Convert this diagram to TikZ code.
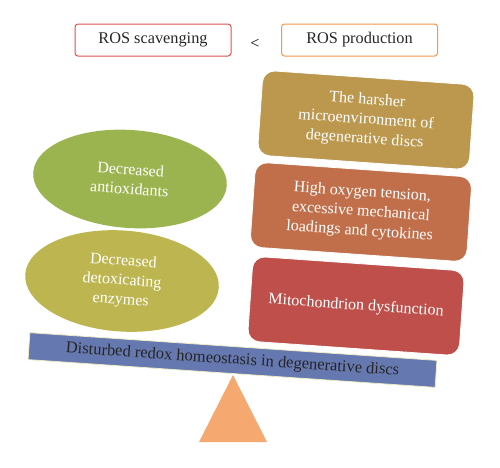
\documentclass[tikz,border=0pt]{standalone}
\usepackage{fontspec}
\setmainfont{Liberation Serif}
\usetikzlibrary{shapes.geometric}
\definecolor{redb}{HTML}{D9534F}
\definecolor{orab}{HTML}{F79646}
\definecolor{boxA}{HTML}{BC974E}
\definecolor{boxB}{HTML}{C06F4A}
\definecolor{boxC}{HTML}{BE4F4B}
\definecolor{ellA}{HTML}{9BB44F}
\definecolor{ellB}{HTML}{BDB54F}
\definecolor{barc}{HTML}{6678B0}
\definecolor{barline}{HTML}{EEEBC4}
\definecolor{tric}{HTML}{F5A86F}
\tikzset{
  topbox/.style={draw, line width=1pt, rounded corners=3pt, minimum width=156pt, minimum height=32pt, font=\fontsize{16.3}{18}\selectfont, text=black!85},
  causebox/.style={rounded corners=12pt, minimum width=212pt, minimum height=85pt, rotate=-4, text=white, align=center, font=\fontsize{16}{19.5}\selectfont, draw=white, line width=0.8pt, inner sep=2pt},
  ellbox/.style={ellipse, minimum width=194pt, minimum height=98pt, rotate=-4, text=white, align=center, font=\fontsize{16}{19.5}\selectfont, inner sep=0pt},
}
\begin{document}
\begin{tikzpicture}[x=1pt,y=-1pt]
\useasboundingbox (0,0) rectangle (500,467);
\node[topbox, draw=redb] (scav) at (153,40) {ROS scavenging};
\node[topbox, draw=orab] (prod) at (359.5,40) {ROS production};
\node[font=\fontsize{16}{18}\selectfont] (lt) at (255,44) {<};
\node[causebox, fill=boxA] (harsh) at (366,120) {The harsher\\microenvironment of\\degenerative discs};
\node[causebox, fill=boxB, minimum width=217pt] (oxy) at (361,212) {High oxygen tension,\\excessive mechanical\\loadings and cytokines};
\node[causebox, fill=boxC] (mito) at (356,306) {Mitochondrion dysfunction};
\node[ellbox, fill=ellA] (antiox) at (130,179) {Decreased\\antioxidants};
\node[ellbox, fill=ellB, minimum height=101pt] (detox) at (122,281) {Decreased\\detoxicating\\enzymes};
\fill[tric] (233,375) -- (267,442) -- (199,442) -- cycle;
\node[fill=barc, draw=barline, line width=0.8pt, rotate=-3.9, minimum width=408pt, minimum height=27pt, inner sep=0pt, font=\fontsize{16.5}{18}\selectfont, text=black!85] (bar) at (232.5,360) {Disturbed redox homeostasis in degenerative discs};
\end{tikzpicture}
\end{document}
